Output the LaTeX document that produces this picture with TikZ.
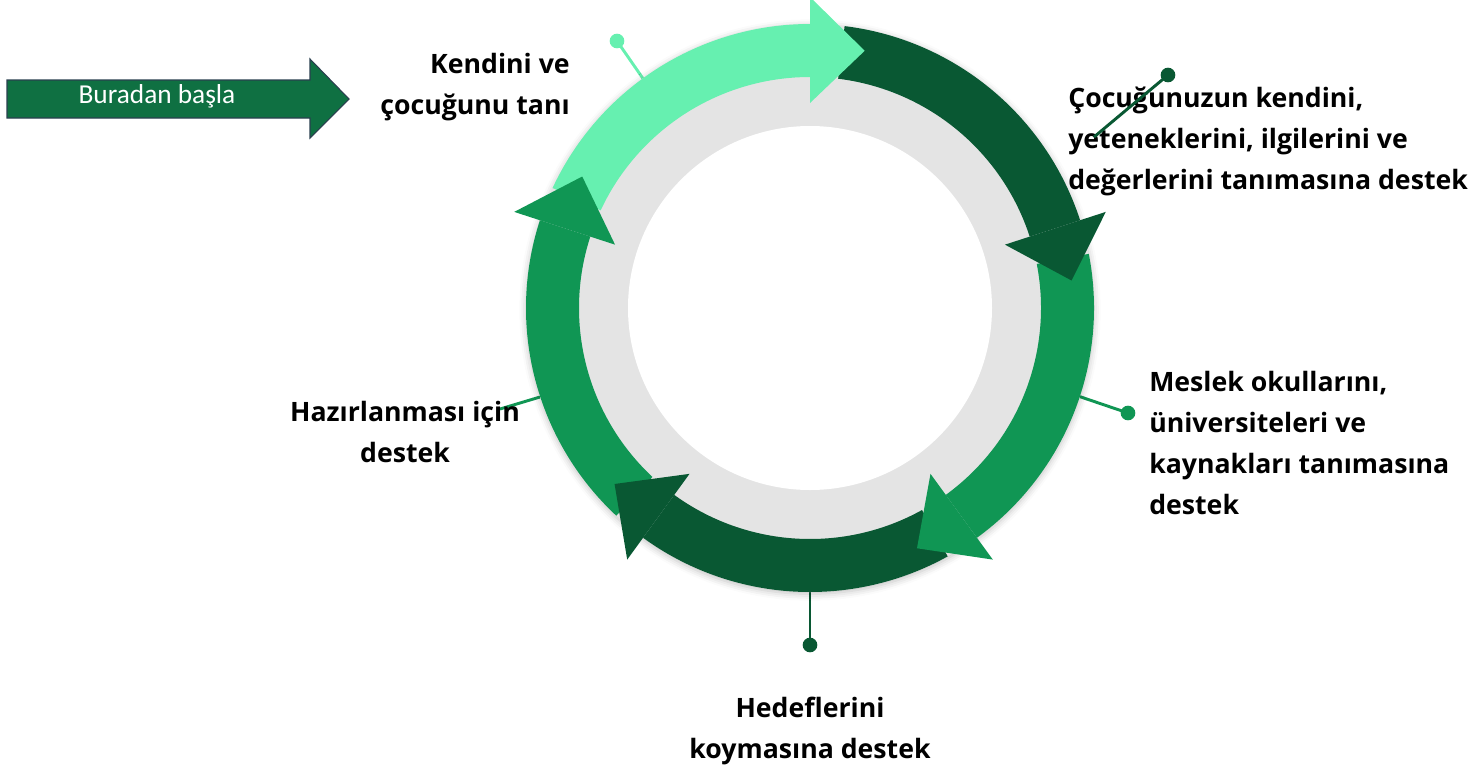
\documentclass[tikz,border=0pt]{standalone}
\usepackage{fontspec}
\setmainfont{Open Sans}
\newfontfamily\startfont{Carlito}
\usetikzlibrary{shadows.blur}
\definecolor{lgreen}{HTML}{66F0B0}
\definecolor{dgreen}{HTML}{095833}
\definecolor{mgreen}{HTML}{109654}
\definecolor{startgreen}{HTML}{0F7042}
\definecolor{startedge}{HTML}{2A3F4F}
\definecolor{ringgray}{HTML}{E4E4E4}
\newcommand{\cycband}[3]{%
  \fill[#3] (#1:284) arc[start angle=#1, end angle=#2, radius=284]
    -- (#2:231) arc[start angle=#2, end angle=#1, radius=231] -- cycle;}
\newcommand{\cychead}[3]{%
  \fill[#3] (#1:311) -- (#2:263) -- (#1:205) -- cycle;}
\begin{document}
\begin{tikzpicture}[x=0.75pt,y=-0.75pt,
  lbl/.style={font=\bfseries\fontsize{20}{30.75}\selectfont, text=black, inner sep=0pt},
  dot/.style={circle, inner sep=0pt, minimum size=11pt},
  callout/.style={line width=2.2pt}]
\useasboundingbox (0,0) rectangle (1479,768);

% start arrow
\fill[startgreen, draw=startedge, line width=0.8pt]
  (7,80) -- (310,80) -- (310,59) -- (349,99) -- (310,138) -- (310,118) -- (7,118) -- cycle;
\node[text=white, font=\startfont\fontsize{20.5}{24}\selectfont, inner sep=0pt] (start) at (157,96) {Buradan başla};

% callout lines
\coordinate (e1) at (644,80);
\node[dot, fill=lgreen] (d1) at (617,41) {};
\draw[callout, lgreen] (d1.center) -- (e1);
\coordinate (e3) at (1078,396);
\node[dot, fill=mgreen] (d3) at (1128,413) {};
\draw[callout, mgreen] (e3) -- (d3.center);
\coordinate (e4) at (810,588);
\node[dot, fill=dgreen] (d4) at (810,645) {};
\draw[callout, dgreen] (e4) -- (d4.center);
\coordinate (e5) at (540,397);
\coordinate (f5) at (500,409);
\draw[callout, mgreen] (e5) -- (f5);

% ring
\begin{scope}[shift={(810,308)}, yscale=-1]
  \fill[ringgray, blur shadow={shadow xshift=0pt, shadow yshift=-1.5pt, shadow blur radius=5pt, shadow opacity=25}] (0,0) circle[radius=284];
  \fill[white] (0,0) circle[radius=182];
  \cycband{155}{90}{lgreen}
  \cycband{83}{18}{dgreen}
  \cycband{11}{-54}{mgreen}
  \cycband{-61}{-126}{dgreen}
  \cycband{227}{162}{mgreen}
  \cychead{90}{78}{lgreen}
  \cychead{18}{6}{dgreen}
  \cychead{-54}{-66}{mgreen}
  \cychead{-126}{-138}{dgreen}
  \cychead{162}{150}{mgreen}
\end{scope}

% labels
\node[lbl, align=right, anchor=east] (t1) at (570,87) {Kendini ve\\çocuğunu tanı};
\node[lbl, align=left, anchor=west] (t2) at (1068,141) {Çocuğunuzun kendini,\\yeteneklerini, ilgilerini ve\\değerlerini tanımasına destek};
\node[lbl, align=left, anchor=west] (t3) at (1149,443) {Meslek okullarını,\\üniversiteleri ve\\kaynakları tanımasına\\destek};
\node[lbl, align=center] (t4) at (405,432) {Hazırlanması için\\destek};
\node[lbl, align=center] (t5) at (810,731) {Hedeflerini\\koymasına destek};

\coordinate (e2) at (1094,137);
\node[dot, fill=dgreen] (d2) at (1168,75) {};
\draw[callout, dgreen] (e2) -- (d2.center);
\end{tikzpicture}
\end{document}
